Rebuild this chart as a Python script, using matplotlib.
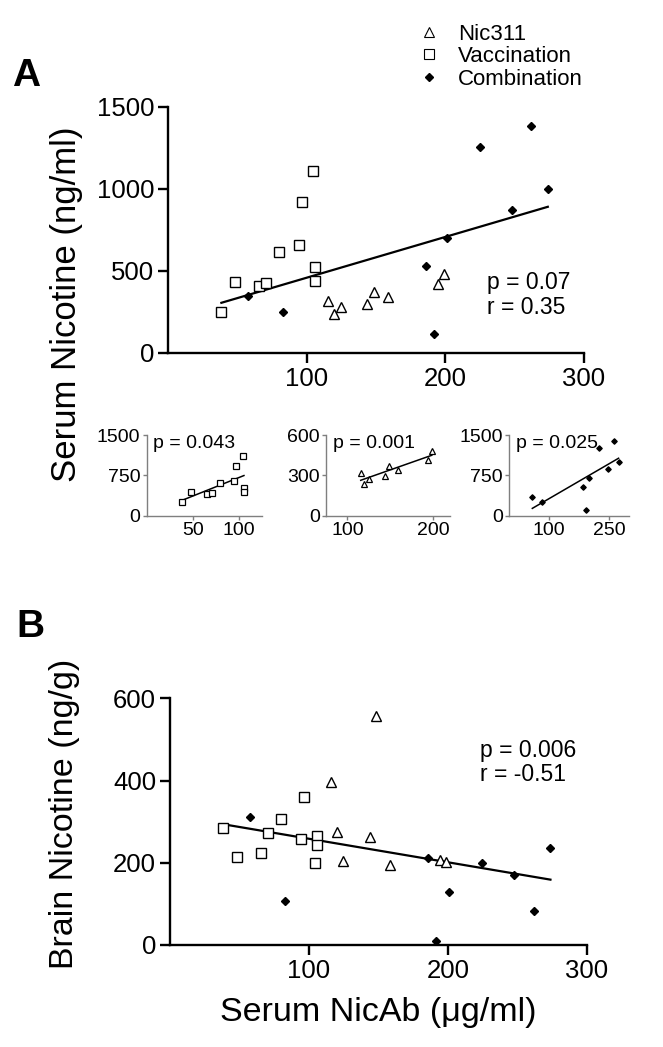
import numpy as np
import matplotlib
matplotlib.use("Agg")
import matplotlib.pyplot as plt
from matplotlib.lines import Line2D

plt.rcParams['font.family'] = ['Liberation Sans', 'DejaVu Sans']

# serum NicAb (ug/ml) per animal, by group
vac_x = [38.5, 48.5, 65.5, 70.5, 79.7, 94.5, 96.6, 104.5, 105.7, 105.7]
nic_x = [115.6, 119.9, 124.7, 143.7, 148.6, 158.7, 194.5, 198.7]
comb_x = [57.7, 82.6, 185.8, 191.7, 201.0, 224.7, 247.8, 261.8, 273.9]

# serum nicotine (ng/ml)
vac_serum = [246, 433, 404, 427, 616, 654, 921, 1108, 524, 437]
nic_serum = [317, 236, 276, 297, 368, 339, 417, 482]
comb_serum = [343, 250, 526, 112, 701, 1254, 868, 1382, 996]

# brain nicotine (ng/g)
vac_brain = [285, 214, 224, 272, 306, 257, 361, 199, 264, 242]
nic_brain = [397, 275, 205, 263, 558, 195, 207, 203]
comb_brain = [312, 106, 211, 9, 128, 200, 171, 82, 236]

labels = ['Nic311', 'Vaccination', 'Combination']
p_main = ['p = 0.07\nr = 0.35', 'p = 0.006\nr = -0.51']
p_inset = ['p = 0.043', 'p = 0.001', 'p = 0.025']

W, H = 663, 1047
fig = plt.figure(figsize=(W / 100, H / 100), dpi=100)


def px(l, t, r, b):
    return [l / W, 1 - b / H, (r - l) / W, (b - t) / H]


def style(ax, lw, color, fs, tl, pad):
    for s in ['top', 'right']:
        ax.spines[s].set_visible(False)
    for s in ['left', 'bottom']:
        ax.spines[s].set_linewidth(lw)
        ax.spines[s].set_color(color)
    ax.tick_params(direction='out', width=lw, length=tl, color=color,
                   labelsize=fs, pad=pad)


def fit_line(ax, xs, ys, lw):
    xs = np.asarray(xs, float)
    ys = np.asarray(ys, float)
    k, b = np.polyfit(xs, ys, 1)
    xx = np.array([xs.min(), xs.max()])
    ax.plot(xx, k * xx + b, color='black', lw=lw, zorder=1)


def groups(ax, ys_list, ms):
    ax.plot(nic_x, ys_list[0], ls='none', marker='^', ms=ms, mfc='white',
            mec='black', mew=1.0, zorder=3)
    ax.plot(vac_x, ys_list[1], ls='none', marker='s', ms=ms, mfc='white',
            mec='black', mew=1.0, zorder=3)
    ax.plot(comb_x, ys_list[2], ls='none', marker='D', ms=ms * 0.62, mfc='black',
            mec='black', zorder=3)


# panel A main
axA = fig.add_axes(px(168, 106.7, 584, 352.7))
style(axA, 1.7, 'black', 18.5, 7, 3)
groups(axA, [nic_serum, vac_serum, comb_serum], 7.3)
fit_line(axA, nic_x + vac_x + comb_x, nic_serum + vac_serum + comb_serum, 1.6)
axA.set_xlim(0, 300)
axA.set_ylim(0, 1500)
axA.set_xticks([100, 200, 300])
axA.set_yticks([0, 500, 1000, 1500])
axA.text(0.767, 0.233, p_main[0], transform=axA.transAxes, fontsize=16.5,
         va='center', ha='left', linespacing=1.1)
axA.set_ylabel('Serum Nicotine (ng/ml)', fontsize=25)
axA.yaxis.set_label_coords(-0.204, 0.198)

# insets
inset_cfg = [
    (px(146.7, 435, 261.7, 515.7), vac_x, vac_serum, 's', 'white', (0, 125), [50, 100], 1500, [0, 750, 1500]),
    (px(326, 435, 450, 515.7), nic_x, nic_serum, '^', 'white', (75, 220), [100, 200], 600, [0, 300, 600]),
    (px(509.3, 435, 629, 515.7), comb_x, comb_serum, 'D', 'black', (0, 300), [100, 250], 1500, [0, 750, 1500]),
]
for i, (rect, xs, ys, mk, fc, xl, xt, ytop, yt) in enumerate(inset_cfg):
    ax = fig.add_axes(rect)
    style(ax, 1.0, '#7f7f7f', 14, 3, 1.5)
    ms = 4.6 if mk != 'D' else 2.8
    ax.plot(xs, ys, ls='none', marker=mk, ms=ms, mfc=fc, mec='black', mew=0.9, zorder=3)
    fit_line(ax, xs, ys, 1.1)
    ax.set_xlim(*xl)
    ax.set_ylim(0, ytop)
    ax.set_xticks(xt)
    ax.set_yticks(yt)
    ax.text(0.055, 0.9, p_inset[i], transform=ax.transAxes, fontsize=14,
            va='center', ha='left')

# panel B
axB = fig.add_axes(px(170, 698.3, 586.7, 945))
style(axB, 1.7, 'black', 18.5, 7, 3)
groups(axB, [nic_brain, vac_brain, comb_brain], 7.3)
fit_line(axB, nic_x + vac_x + comb_x, nic_brain + vac_brain + comb_brain, 1.6)
axB.set_xlim(0, 300)
axB.set_ylim(0, 600)
axB.set_xticks([100, 200, 300])
axB.set_yticks([0, 200, 400, 600])
axB.text(0.744, 0.74, p_main[1], transform=axB.transAxes, fontsize=16.5,
         va='center', ha='left', linespacing=1.1)
axB.set_ylabel('Brain Nicotine (ng/g)', fontsize=24.5)
axB.yaxis.set_label_coords(-0.216, 0.531)
axB.set_xlabel('Serum NicAb (\u03bcg/ml)', fontsize=24.5, labelpad=10)

fig.text(12 / W, 1 - 76 / H, 'A', fontsize=28, fontweight='bold', va='center')
fig.text(16 / W, 1 - 627 / H, 'B', fontsize=28, fontweight='bold', va='center')

handles = [
    Line2D([], [], ls='none', marker='^', ms=6.5, mfc='white', mec='black', mew=0.8),
    Line2D([], [], ls='none', marker='s', ms=6.5, mfc='white', mec='black', mew=0.8),
    Line2D([], [], ls='none', marker='D', ms=4.5, mfc='black', mec='black'),
]
fig.legend(handles, labels, loc='upper left', bbox_to_anchor=(402.5 / W, 1 - 8 / H),
           frameon=False, fontsize=16, handlelength=1.0, handletextpad=0.8,
           labelspacing=0.07, borderpad=0.2)

fig.savefig('out.png', dpi=100)
